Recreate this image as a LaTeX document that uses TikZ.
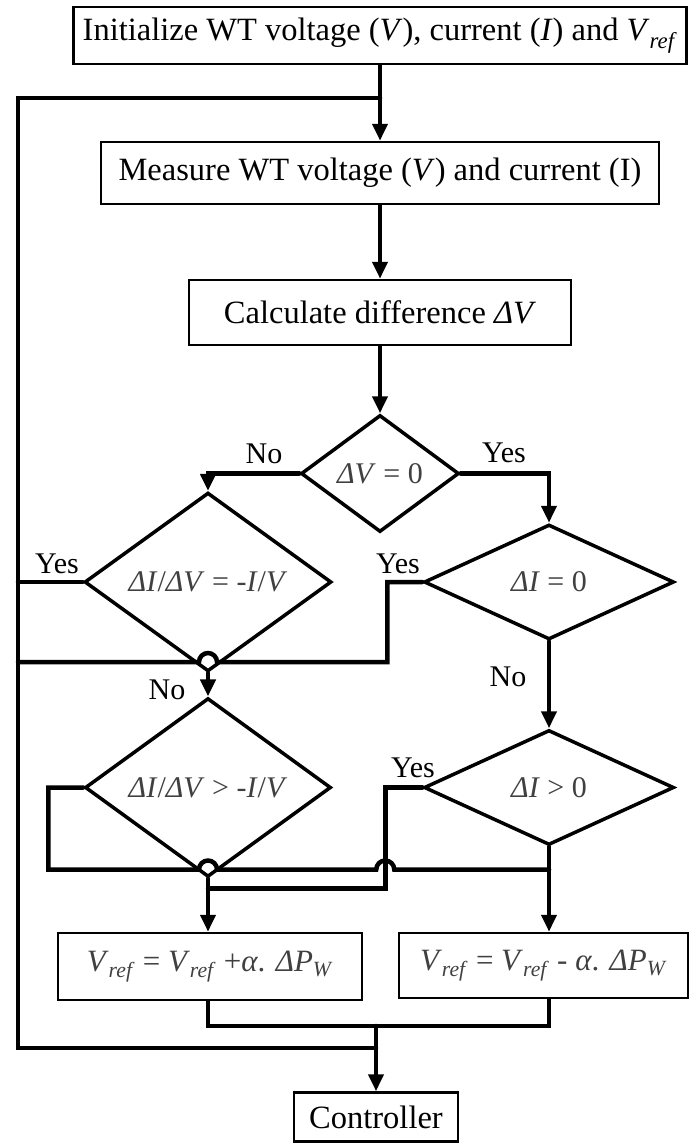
\documentclass[tikz,border=0pt]{standalone}
\usepackage{fontspec}
\setmainfont{Liberation Serif}
\usetikzlibrary{shapes.geometric,arrows.meta,calc}
\newcommand{\vr}{\textit{V}\textsubscript{\textit{ref}}}

\begin{document}
\begin{tikzpicture}[x=1pt,y=-1pt,
  every node/.style={font=\fontsize{30}{36}\selectfont},
  procbox/.style={draw,line width=2.5pt,inner sep=0pt,font=\fontsize{32.5}{38}\selectfont},
  decbox/.style={draw,diamond,line width=3.5pt,inner sep=0pt,text=black!75},
  flow/.style={line width=4.5pt,line cap=round},
  arr/.style={flow,-{Triangle[length=17pt,width=15pt]}}]
\useasboundingbox (0,0) rectangle (690,1143);
\node[procbox,minimum width=613,minimum height=57] (init) at (380,35.5) {Initialize WT voltage (\textit{V}), current (\textit{I}) and \vr};
\node[procbox,minimum width=558,minimum height=62] (meas) at (380,173) {Measure WT voltage (\textit{V}) and current (I)};
\node[procbox,minimum width=382,minimum height=65] (calc) at (380,312.5) {Calculate difference \textit{ΔV}};
\node[decbox,minimum width=158,minimum height=117] (dv) at (380,473.5) {\textit{ΔV} = 0};
\node[decbox,minimum width=247,minimum height=115] (didv) at (208,582) {\textit{ΔI}/\textit{ΔV} = -\textit{I}/\textit{V}};
\node[decbox,minimum width=250,minimum height=115] (di) at (549,582) {\textit{ΔI} = 0};
\node[decbox,minimum width=246,minimum height=115] (didvg) at (208,787.5) {\textit{ΔI}/\textit{ΔV} > -\textit{I}/\textit{V}};
\node[decbox,minimum width=250,minimum height=115] (dig) at (549,787.5) {\textit{ΔI} > 0};
\node[procbox,minimum width=304,minimum height=67,text=black!75,font=\fontsize{31}{36}\selectfont] (inc) at (210,966.5) {\vr{} = \vr{} +\textit{α}. \textit{ΔP}\textsubscript{\textit{W}}};
\node[procbox,minimum width=289,minimum height=65,text=black!75,font=\fontsize{31}{36}\selectfont] (dec) at (543.5,965.5) {\vr{} = \vr{} - \textit{α}. \textit{ΔP}\textsubscript{\textit{W}}};
\node[procbox,minimum width=164,minimum height=49] (ctrl) at (376,1117) {Controller};
\node (no1) at (264,454) {No};
\node (yes1) at (504,453) {Yes};
\node (yes2) at (57,564) {Yes};
\node (yes3) at (398,564) {Yes};
\node (no2) at (167,690) {No};
\node (no3) at (508,677) {No};
\node (yes4) at (413,768) {Yes};
\coordinate (fbtop) at (18,98);
\coordinate (fbbot) at (18,1048);
\coordinate (mrg) at (376,1026);
% main path and feedback
\draw[arr] (init) -- (meas);
\draw[arr] (meas) -- (calc);
\draw[arr] (calc) -- (dv);
\draw[flow] (init.south |- fbtop) -- (fbtop) -- (fbbot) -- (fbbot -| mrg);
\draw[arr] (dv.west) -| (didv.north);
\draw[arr] (dv.east) -| (di.north);
\draw[flow] (didv.west) -- (didv.west -| fbtop);
\draw[flow] (di.west) -- ++(-35,0) -- ++(0,80) coordinate (yes3b)
  -- ($(didv.south |- yes3b)+(9,0)$) arc[start angle=0,end angle=-180,radius=9]
  -- (fbtop |- yes3b);
\draw[arr] (didv.south) -- (didvg.north);
\draw[arr] (di.south) -- (dig.north);
% second level
\draw[flow] (dig.west) -- ++(-37,0) coordinate (yes4a) -- ++(0,101) coordinate (yes4b)
  -- (didvg.south |- yes4b);
\draw[flow] (didvg.west) -- ++(-35,0) -- ++(0,82) coordinate (lp)
  -- ($(didvg.south |- lp)+(-9,0)$) arc[start angle=180,end angle=360,radius=9]
  -- ($(yes4a |- lp)+(-9,0)$) arc[start angle=180,end angle=360,radius=9]
  -- (dig.south |- lp);
\draw[arr] (didvg.south) -- (didvg.south |- inc.north);
\draw[arr] (dig.south) -- (dig.south |- dec.north);
\draw[flow] (didvg.south |- inc.south) -- (didvg.south |- mrg) -- (dig.south |- mrg) -- (dig.south |- dec.south);
\draw[arr] (mrg) -- (ctrl.north);
\end{tikzpicture}
\end{document}
